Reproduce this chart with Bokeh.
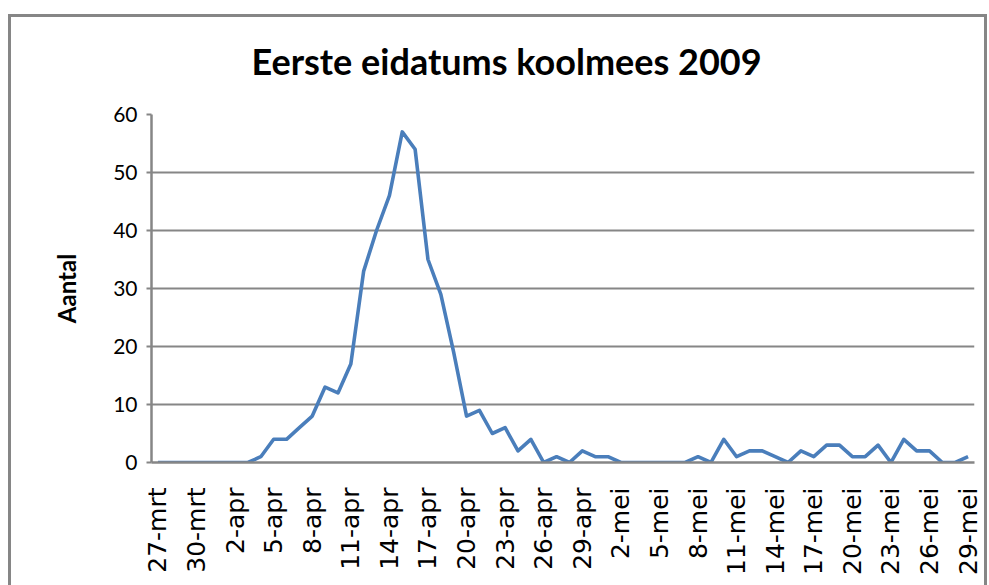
from bokeh.plotting import figure
from bokeh.models import ColumnDataSource, Range1d, FixedTicker
from bokeh.embed import file_html
from bokeh.resources import INLINE
from math import pi

# categories (dates) 27-mrt .. 29-mei 2009
dates = ([f"{d}-mrt" for d in range(27, 32)]
         + [f"{d}-apr" for d in range(1, 31)]
         + [f"{d}-mei" for d in range(1, 30)])

# number of first eggs per date
aantal = [0, 0, 0, 0, 0, 0, 0, 0, 1, 4,
          4, 6, 8, 13, 12, 17, 33, 40, 46, 57,
          54, 35, 29, 19, 8, 9, 5, 6, 2, 4,
          0, 1, 0, 2, 1, 1, 0, 0, 0, 0,
          0, 0, 1, 0, 4, 1, 2, 2, 1, 0,
          2, 1, 3, 3, 1, 1, 3, 0, 4, 2,
          2, 0, 0, 1]

yticks = [0, 10, 20, 30, 40, 50, 60]
title_text = "Eerste eidatums koolmees 2009"
y_title = "Aantal"

idx = list(range(len(dates)))
src = ColumnDataSource(dict(x=idx, y=aantal, d=dates))

p = figure(width=989, height=585, output_backend="svg", toolbar_location=None,
           title=title_text,
           x_range=Range1d(-0.5, len(dates) - 0.5), y_range=Range1d(0, 60),
           min_border_left=151, min_border_right=15, min_border_top=114, min_border_bottom=123)
p.outline_line_color = None
p.background_fill_color = None
p.border_fill_color = None
# chart frame (left, top, right) drawn as inset shadows behind the transparent canvas
p.styles = {
    "box-shadow": ("inset 0 14px 0 0 #ffffff, inset 8px 0 0 0 #ffffff, inset -2px 0 0 0 #ffffff, "
                   "inset 0 17px 0 0 #868686, inset 11px 0 0 0 #868686, inset -5px 0 0 0 #868686"),
}

# title
p.title.text_font = "Lato"
p.title.text_font_style = "bold"
p.title.text_font_size = "36px"
p.title.text_color = "#000000"
p.title.align = "left"
p.title.offset = 100
p.title.standoff = 64

p.line("x", "y", source=src, line_color="#4A7EBB", line_width=3.6, line_join="round")

# x axis
p.xaxis.ticker = FixedTicker(ticks=idx[::3])
p.xaxis.major_label_overrides = {i: dates[i] for i in idx[::3]}
p.xaxis.major_label_orientation = pi / 2
p.xaxis.major_label_text_font = "DejaVu Sans"
p.xaxis.major_label_text_font_size = "25px"
p.xaxis.major_label_text_color = "#000000"
p.xaxis.major_label_standoff = 25
p.xaxis.major_tick_out = 0
p.xaxis.major_tick_in = 0
p.xaxis.minor_tick_out = 0
p.xaxis.minor_tick_in = 0
p.xaxis.axis_line_color = "#868686"
p.xaxis.axis_line_width = 2.5
p.xgrid.grid_line_color = None

# y axis
p.yaxis.ticker = FixedTicker(ticks=yticks)
p.yaxis.major_label_text_font = "Lato"
p.yaxis.major_label_text_font_size = "21px"
p.yaxis.major_label_text_color = "#000000"
p.yaxis.major_label_standoff = 9
p.yaxis.major_tick_out = 5
p.yaxis.major_tick_in = 0
p.yaxis.minor_tick_out = 0
p.yaxis.minor_tick_in = 0
p.yaxis.major_tick_line_color = "#868686"
p.yaxis.major_tick_line_width = 2
p.yaxis.axis_line_color = "#868686"
p.yaxis.axis_line_width = 2.5
p.yaxis.axis_label = y_title
p.yaxis.axis_label_text_font = "Lato"
p.yaxis.axis_label_text_font_style = "bold"
p.yaxis.axis_label_text_font_size = "24px"
p.yaxis.axis_label_text_color = "#000000"
p.yaxis.axis_label_standoff = 29
p.ygrid.grid_line_color = "#868686"
p.ygrid.grid_line_width = 2

open("out.html", "w").write(file_html(p, INLINE))
